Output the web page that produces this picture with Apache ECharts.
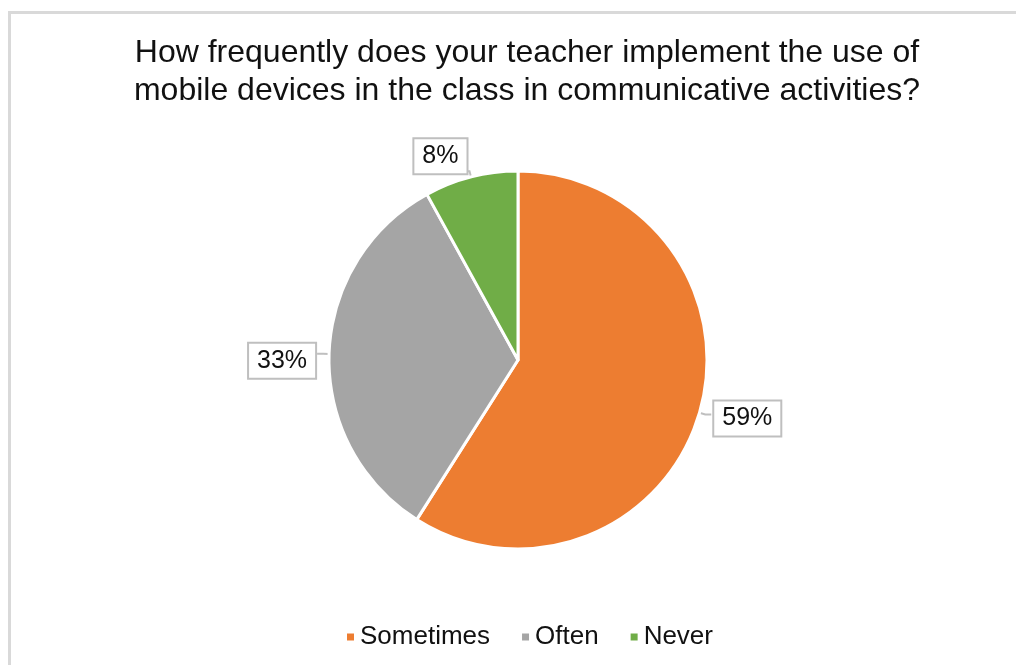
<!DOCTYPE html>
<html>
<head>
<meta charset="utf-8">
<script src="https://cdn.jsdelivr.net/npm/echarts@6/dist/echarts.min.js"></script>
<style>
  html, body { margin: 0; padding: 0; background: #fff; }
  #chart { width: 1016px; height: 665px; }
</style>
</head>
<body>
<div id="chart"></div>
<script>
// Survey responses (percent of students)
const categories = ['Sometimes', 'Often', 'Never'];
const shares = [59, 33, 8];
const sliceColors = ['#ED7D31', '#A5A5A5', '#70AD47'];

const titleLines = [
  'How frequently does your teacher implement the use of',
  'mobile devices in the class in communicative activities?'
];

const chart = echarts.init(document.getElementById('chart'), null, { renderer: 'canvas' });

const pieData = categories.map((name, i) => ({
  name: name,
  value: shares[i],
  itemStyle: { color: sliceColors[i] }
}));

// small nudges so each callout sits where the data label box belongs
const calloutNudge = [[3, 4], [-2, 7], [3, -15]];

chart.setOption({
  backgroundColor: '#ffffff',
  animation: false,
  textStyle: { fontFamily: 'Liberation Sans, Arial, sans-serif' },
  title: {
    text: titleLines.join('\n'),
    left: 522,
    textAlign: 'center',
    top: 29,
    textStyle: {
      fontFamily: 'Liberation Sans, Arial, sans-serif',
      fontSize: 32,
      fontWeight: 'normal',
      color: '#111111',
      lineHeight: 38
    }
  },
  legend: {
    bottom: 10,
    left: 340,
    icon: 'rect',
    itemWidth: 9,
    itemHeight: 9,
    itemGap: 30,
    data: categories,
    textStyle: {
      fontFamily: 'Liberation Sans, Arial, sans-serif',
      fontSize: 26,
      color: '#111111'
    }
  },
  graphic: [
    { type: 'rect', shape: { x: 8, y: 11, width: 3, height: 660 }, style: { fill: '#d9d9d9' } },
    { type: 'rect', shape: { x: 8, y: 11, width: 1010, height: 3 }, style: { fill: '#d9d9d9' } }
  ],
  series: [{
    type: 'pie',
    center: [518, 360],
    radius: 189,
    startAngle: 90,
    clockwise: true,
    data: pieData,
    itemStyle: { borderColor: '#ffffff', borderWidth: 3 },
    label: {
      show: true,
      position: 'outside',
      formatter: '{c}%',
      fontFamily: 'Liberation Sans, Arial, sans-serif',
      fontSize: 25,
      color: '#111111',
      backgroundColor: '#ffffff',
      borderColor: '#bfbfbf',
      borderWidth: 2,
      padding: [5, 8, 4, 8],
      distanceToLabelLine: 0
    },
    labelLine: {
      show: true,
      length: 6,
      length2: 6,
      lineStyle: { color: '#bfbfbf', width: 2 }
    },
    labelLayout: function (params) {
      const n = calloutNudge[params.dataIndex];
      return { dx: n[0], dy: n[1] };
    },
    emphasis: { disabled: true }
  }]
});
</script>
</body>
</html>
